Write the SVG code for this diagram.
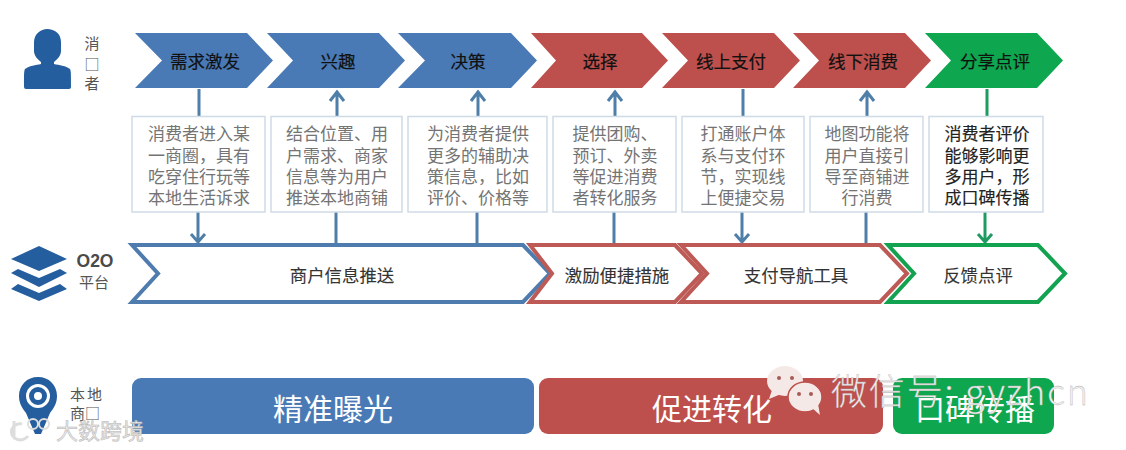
<svg xmlns="http://www.w3.org/2000/svg" width="1126" height="450" viewBox="0 0 1126 450">
<style>
text{font-family:"Noto Sans CJK SC","Liberation Sans",sans-serif;text-anchor:middle;dominant-baseline:central}
.t{font-size:17.500px;fill:#111;stroke:#111;stroke-width:.2}
.b{font-size:17px;fill:#747474}
.k{font-size:17px;fill:#222;stroke:#222;stroke-width:.15}
.s{font-size:15px;fill:#555}
.m{font-size:17.400px;fill:#333;stroke:#333;stroke-width:.1}
.w{font-size:30px;fill:#fff}
.box{fill:#fff;stroke:#cfdbe6;stroke-width:1.500}
.bl{fill:#4a7ab5}.re{fill:#bd504d}.gr{fill:#0ea64e}
.ol{fill:#fff;stroke-width:4;stroke-linejoin:miter}
.ic{fill:#255e9e}
.c{fill:none;stroke:#4f7ea8;stroke-width:3}
.g{stroke:#1f9b62}
</style>
<rect width="1126" height="450" fill="#fff"/>

<g id="consumer-label">
<path class="ic" d="M47 29c8 0 14 5 14 13v9c0 4-3 8-7 11v2c5 1 12 2 16 5 1 2 1 4 1 18q0 2-2 2H26q-2 0-2-2c0-14 0-16 1-18 4-3 11-4 16-5v-2c-4-3-7-7-7-11v-9c0-8 7-13 13-13z"/>
<text class="s" x="92" y="42.500">消</text><text class="s" x="92" y="63">□</text><text class="s" x="92" y="82">者</text>
</g>
<g id="platform-label">
<path class="ic" d="M39 246l28 13-28 12-28-12z"/>
<path class="ic" d="M18 269l21 9 21-9 7 4-28 14-28-14z"/>
<path class="ic" d="M18 284l21 9 21-9 7 5-28 12-28-12z"/>
<text x="95" y="261" style="font-size:17.500px;font-weight:700;fill:#4a4a4a;font-family:'Liberation Sans',sans-serif">O2O</text>
<text class="s" x="94" y="281">平台</text>
</g>
<g id="merchant-label">
<path class="ic" d="M38 377c11 0 19 8 19 19 0 7-3 12-7 17l-9 21h-6l-9-21c-4-5-7-10-7-17 0-11 8-19 19-19z"/>
<circle cx="38" cy="396" r="10.500" fill="none" stroke="#fff" stroke-width="3"/><circle cx="38" cy="396" r="4" fill="#fff"/>
<text class="s" x="87" y="393" style="letter-spacing:2px">本地</text><text class="s" x="85" y="412">商□</text>
</g>

<g id="connectors">
<path class="c" d="M199 89V116"/><path class="c" d="M198 212V242M191 234l7 8 7-8"/>
<path class="c" d="M337 116V91M330 101l7-9 7 9"/><path class="c" d="M336 212V245"/>
<path class="c" d="M478 116V91M471 101l7-9 7 9"/><path class="c" d="M477 212V245"/>
<path class="c" d="M615 116V91M608 101l7-9 7 9"/><path class="c" d="M614 212V245"/>
<path class="c" d="M743 89V116"/><path class="c" d="M742 212V242M735 234l7 8 7-8"/>
<path class="c" d="M867 116V91M860 101l7-9 7 9"/><path class="c" d="M866 212V245"/>
<path class="c g" d="M987 89V116"/><path class="c g" d="M985 212V242M978 234l7 8 7-8"/>
</g>

<g id="step-1"><polygon class="bl" points="135,33 247,33 273,60.500 247,88 135,88 162,60.500"/><text class="t" x="205" y="60">需求激发</text></g>
<g id="step-2"><polygon class="bl" points="267,33 379,33 405,60.500 379,88 267,88 293,60.500"/><text class="t" x="338" y="60">兴趣</text></g>
<g id="step-3"><polygon class="bl" points="398,33 511,33 537,60.500 511,88 398,88 425,60.500"/><text class="t" x="468" y="60">决策</text></g>
<g id="step-4"><polygon class="re" points="531,33 642,33 668,60.500 642,88 531,88 556,60.500"/><text class="t" x="600" y="60">选择</text></g>
<g id="step-5"><polygon class="re" points="662,33 774,33 800,60.500 774,88 662,88 688,60.500"/><text class="t" x="731" y="60">线上支付</text></g>
<g id="step-6"><polygon class="re" points="793,33 905,33 931,60.500 905,88 793,88 819,60.500"/><text class="t" x="863" y="60">线下消费</text></g>
<g id="step-7"><polygon class="gr" points="925,33 1037,33 1063,60.500 1037,88 925,88 951,60.500"/><text class="t" x="995" y="60">分享点评</text></g>

<g id="note-1"><rect class="box" x="132" y="116.500" width="133" height="95.500"/><text class="b"><tspan x="199" y="132">消费者进入某</tspan><tspan x="199" y="153.500">一商圈，具有</tspan><tspan x="199" y="175">吃穿住行玩等</tspan><tspan x="199" y="196">本地生活诉求</tspan></text></g>
<g id="note-2"><rect class="box" x="271" y="116.500" width="131" height="95.500"/><text class="b"><tspan x="337" y="132">结合位置、用</tspan><tspan x="337" y="153.500">户需求、商家</tspan><tspan x="337" y="175">信息等为用户</tspan><tspan x="337" y="196">推送本地商铺</tspan></text></g>
<g id="note-3"><rect class="box" x="408" y="116.500" width="139" height="95.500"/><text class="b"><tspan x="478" y="132">为消费者提供</tspan><tspan x="478" y="153.500">更多的辅助决</tspan><tspan x="478" y="175">策信息，比如</tspan><tspan x="478" y="196">评价、价格等</tspan></text></g>
<g id="note-4"><rect class="box" x="553" y="116.500" width="123" height="95.500"/><text class="b"><tspan x="615" y="132">提供团购、</tspan><tspan x="615" y="153.500">预订、外卖</tspan><tspan x="615" y="175">等促进消费</tspan><tspan x="615" y="196">者转化服务</tspan></text></g>
<g id="note-5"><rect class="box" x="682" y="116.500" width="122" height="95.500"/><text class="b"><tspan x="743" y="132">打通账户体</tspan><tspan x="743" y="153.500">系与支付环</tspan><tspan x="743" y="175">节，实现线</tspan><tspan x="743" y="196">上便捷交易</tspan></text></g>
<g id="note-6"><rect class="box" x="810" y="116.500" width="113" height="95.500"/><text class="b"><tspan x="867" y="132">地图功能将</tspan><tspan x="867" y="153.500">用户直接引</tspan><tspan x="867" y="175">导至商铺进</tspan><tspan x="867" y="196">行消费</tspan></text></g>
<g id="note-7"><rect class="box" x="929" y="116.500" width="114" height="95.500"/><text class="k"><tspan x="987" y="132">消费者评价</tspan><tspan x="987" y="153.500">能够影响更</tspan><tspan x="987" y="175">多用户，形</tspan><tspan x="987" y="196">成口碑传播</tspan></text></g>

<g id="platform-1"><polygon class="ol" stroke="#4f7cae" points="132,245 523,245 550,273.500 523,302 132,302 158,273.500"/><text class="m" x="342" y="274">商户信息推送</text></g>
<g id="platform-2"><polygon class="ol" stroke="#bd5a56" points="530,245 675,245 702,273.500 675,302 530,302 552,273.500"/><text class="m" x="617" y="274">激励便捷措施</text></g>
<g id="platform-3"><polygon class="ol" stroke="#bd5a56" points="681,245 880,245 907,273.500 880,302 681,302 707,273.500"/><text class="m" x="796" y="274">支付导航工具</text></g>
<g id="platform-4"><polygon class="ol" stroke="#13a350" points="888,245 1038,245 1065,273.500 1038,302 888,302 914,273.500"/><text class="m" x="978" y="274">反馈点评</text></g>

<g id="outcome-1"><rect class="bl" x="132" y="378" width="402" height="56" rx="9"/><text class="w" x="333" y="407">精准曝光</text></g>
<g id="outcome-2"><rect class="re" x="539" y="378" width="344" height="56" rx="9"/><text class="w" x="712" y="407">促进转化</text></g>
<g id="outcome-3"><rect class="gr" x="893" y="378" width="161" height="56" rx="9"/><text class="w" x="975" y="407">口碑传播</text></g>

<g id="watermarks">
<ellipse cx="785" cy="381" rx="18" ry="15" fill="#f5e9e7"/><path d="M772 390l-3 9 12-5z" fill="#f5e9e7"/>
<circle cx="779" cy="378" r="2" fill="#a85a55"/><circle cx="792" cy="378" r="2" fill="#a85a55"/>
<ellipse cx="805" cy="397" rx="17" ry="15" fill="#f5e9e7" stroke="#bd504d" stroke-width="1.500"/><path d="M812 408l8 7-2-11z" fill="#f5e9e7"/>
<circle cx="799" cy="394" r="2" fill="#a85a55"/><circle cx="811" cy="394" r="2" fill="#a85a55"/>
<text x="831" y="389" textLength="257" lengthAdjust="spacing" style="text-anchor:start;font-size:36px;font-weight:300;fill:#f3eeee;stroke:#aaa;stroke-width:.3">微信号: gyzhcn</text>
<text x="100" y="429" style="font-size:22px;fill:#e6e6e6;stroke:#b5b5b5;stroke-width:.5">大数跨境</text>
<path d="M14 421v17M22 424a9 8 0 1 0 6 12" fill="none" stroke="#ddd" stroke-width="3"/>
<circle cx="33" cy="424" r="5" fill="none" stroke="#ddd" stroke-width="2"/><circle cx="44" cy="424" r="5" fill="none" stroke="#ddd" stroke-width="2"/>
</g>
</svg>
